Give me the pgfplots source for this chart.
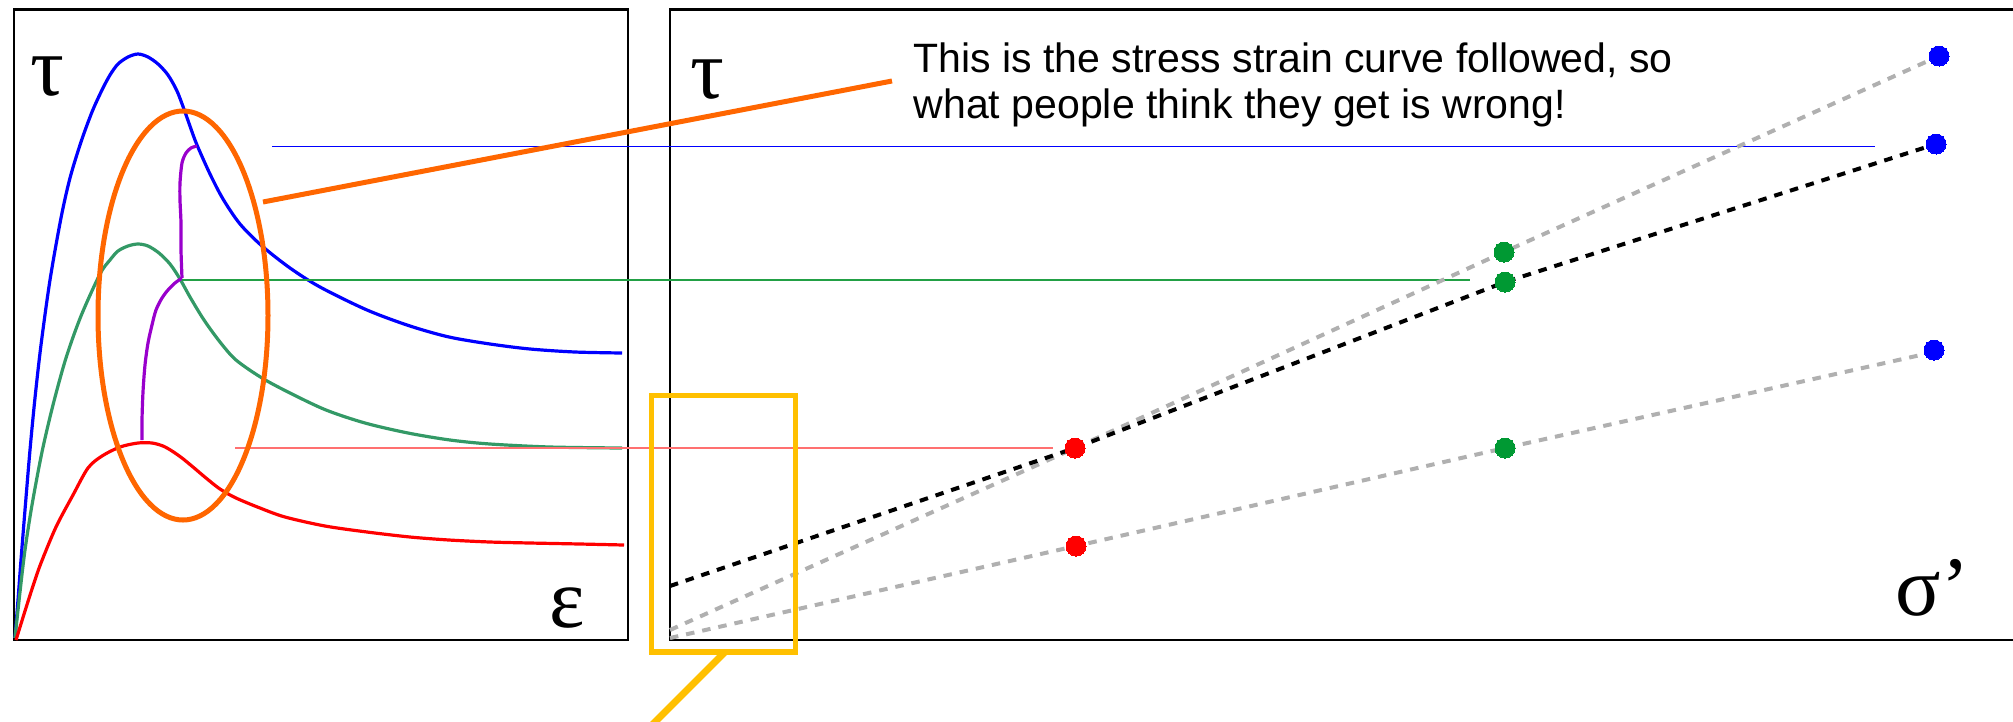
\documentclass[border=0pt]{standalone}
\usepackage{pgfplots}
\pgfplotsset{compat=1.18}
\usepackage{fontspec}
\setmainfont{Liberation Sans}
\newfontfamily\greekfont{Liberation Serif}

\definecolor{cblue}{HTML}{0000FF}
\definecolor{cgreen}{HTML}{339966}
\definecolor{cred}{HTML}{FF0000}
\definecolor{cpurple}{HTML}{9900CC}
\definecolor{corange}{HTML}{FF6600}
\definecolor{cyellow}{HTML}{FFC000}
\definecolor{dotgreen}{HTML}{009933}
\definecolor{lgreen}{HTML}{22A045}
\definecolor{lred}{HTML}{FF7070}
\definecolor{dgray}{HTML}{B0B0B0}

% both panels share one length scale: 1 unit = 0.1 mm, tau grows downward in data units
\pgfplotsset{
  panel/.style={
    scale only axis, ticks=none, clip=false,
    ymin=9.5, ymax=640, y dir=reverse,
    axis line style={line width=0.25mm, black},
  },
  curve/.style={line width=0.32mm, smooth, tension=0.5},
  guide/.style={line width=0.15mm},
  fit/.style={line width=0.4mm, dash pattern=on 0.85mm off 0.8mm},
  dot/.style={only marks, mark=*, mark size=1.0mm, color=#1,
    mark options={draw=#1, fill=#1, line width=0pt}},
}
\newcommand{\greeksize}{\greekfont\fontsize{24pt}{24pt}\selectfont}

\begin{document}
\begin{tikzpicture}
\path[use as bounding box] (0,0) rectangle (201.3mm,72.1mm);
\clip (0,0) rectangle (201.3mm,72.1mm);

% ---------- stress-strain curves ----------
\begin{axis}[panel, at={(1.4mm,8.1mm)}, anchor=south west,
  width=61.4mm, height=63.05mm, xmin=14, xmax=628]
\addplot[cblue, curve] coordinates {
 (15,638) (18,600) (21,560) (25,510) (30,450) (35,398) (41,345) (50,280)
 (61,218) (70,178) (81,142) (92,112) (102,90) (110,75) (118,64) (128,57)
 (138,54) (148,57) (158,64) (168,75) (177,91) (185,112) (191,129) (197,145)
 (210,174) (223,199) (240,224) (262,246) (290,268) (320,287) (367,310)
 (410,326) (449,337) (490,344) (530,349) (575,352) (622,353)};
\addplot[cgreen, curve] coordinates {
 (15,638) (20,592) (25,550) (32,505) (42,452) (53,405) (66,358) (81,316)
 (100,274) (110,260) (118,251) (128,246) (138,244) (148,246) (159,253)
 (170,264) (180,279) (190,297) (204,320) (220,342) (236,360) (262,378)
 (290,393) (326,410) (365,423) (408,433) (450,440) (490,444) (550,447) (622,448)};
\addplot[cred, curve] coordinates {
 (16,640) (25,611) (33,586) (41,563) (56,527) (73,495) (88,468) (102,456)
 (120,447) (138,443) (152,443) (163,446) (172,451) (182,458) (193,467)
 (206,478) (220,489) (236,498) (260,508) (285,517) (325,526) (367,532)
 (410,537) (449,540) (490,542) (530,543) (580,544) (624,545)};
\addplot[cpurple, curve] coordinates {
 (142,440) (142,420) (143,392) (145,365) (148,343) (152,325) (156,310)
 (162,298) (168,290) (175,283) (182,278)};
\addplot[cpurple, curve] coordinates {
 (182,278) (181,250) (181,223) (180,200) (180,183) (182,163) (186,153)
 (191,148) (197,146)};
\node[font=\greeksize, anchor=base, inner sep=0] at (axis cs:47,95) {τ};
\node[font=\greeksize, anchor=base, inner sep=0] at (axis cs:567,627) {ε};
\end{axis}

% ---------- tau versus effective stress ----------
\begin{axis}[panel, at={(67mm,8.1mm)}, anchor=south west,
  width=137mm, height=63.05mm, xmin=670, xmax=2040]
% levels carried across from the curves
\addplot[cblue, guide] coordinates {(272,146.5) (1875,146.5)};
\addplot[lgreen, guide] coordinates {(182,280) (1470,280)};
\addplot[lred, guide] coordinates {(235,448) (1053,448)};
% envelopes
\addplot[dgray, fit] coordinates {(670,630) (1075,448) (1504,252) (1939,56)};
\addplot[dgray, fit] coordinates {(670,638) (1076,546) (1505,448) (1934,352)};
\addplot[black, fit] coordinates {(670,586) (1075,448) (1505,282) (1936,144)};
% points
\addplot[dot=cred] coordinates {(1075,448) (1076,546)};
\addplot[dot=dotgreen] coordinates {(1504,252) (1505,282) (1505,448)};
\addplot[dot=cblue] coordinates {(1939,56) (1936,144) (1934,350)};
% callouts
\draw[corange, line width=0.5mm] (axis cs:183,315.5) ellipse [x radius=8.5mm, y radius=20.45mm];
\draw[corange, line width=0.5mm] (axis cs:263,202) -- (axis cs:892,81);
\draw[cyellow, line width=0.55mm] (axis cs:651.5,395.5) rectangle (axis cs:795.5,652);
\draw[cyellow, line width=0.7mm] (axis cs:725,652) -- (axis cs:640,737);
\node[anchor=base west, inner sep=0, font=\fontsize{11.67pt}{13pt}\selectfont]
  at (axis cs:913,72) {This is the stress strain curve followed, so};
\node[anchor=base west, inner sep=0, font=\fontsize{11.67pt}{13pt}\selectfont]
  at (axis cs:913,118) {what people think they get is wrong!};
\node[font=\greeksize, anchor=base, inner sep=0] at (axis cs:707,98) {τ};
\node[font=\greeksize, anchor=base west, inner sep=0] at (axis cs:1895,615) {σ’};
\end{axis}
\end{tikzpicture}
\end{document}
